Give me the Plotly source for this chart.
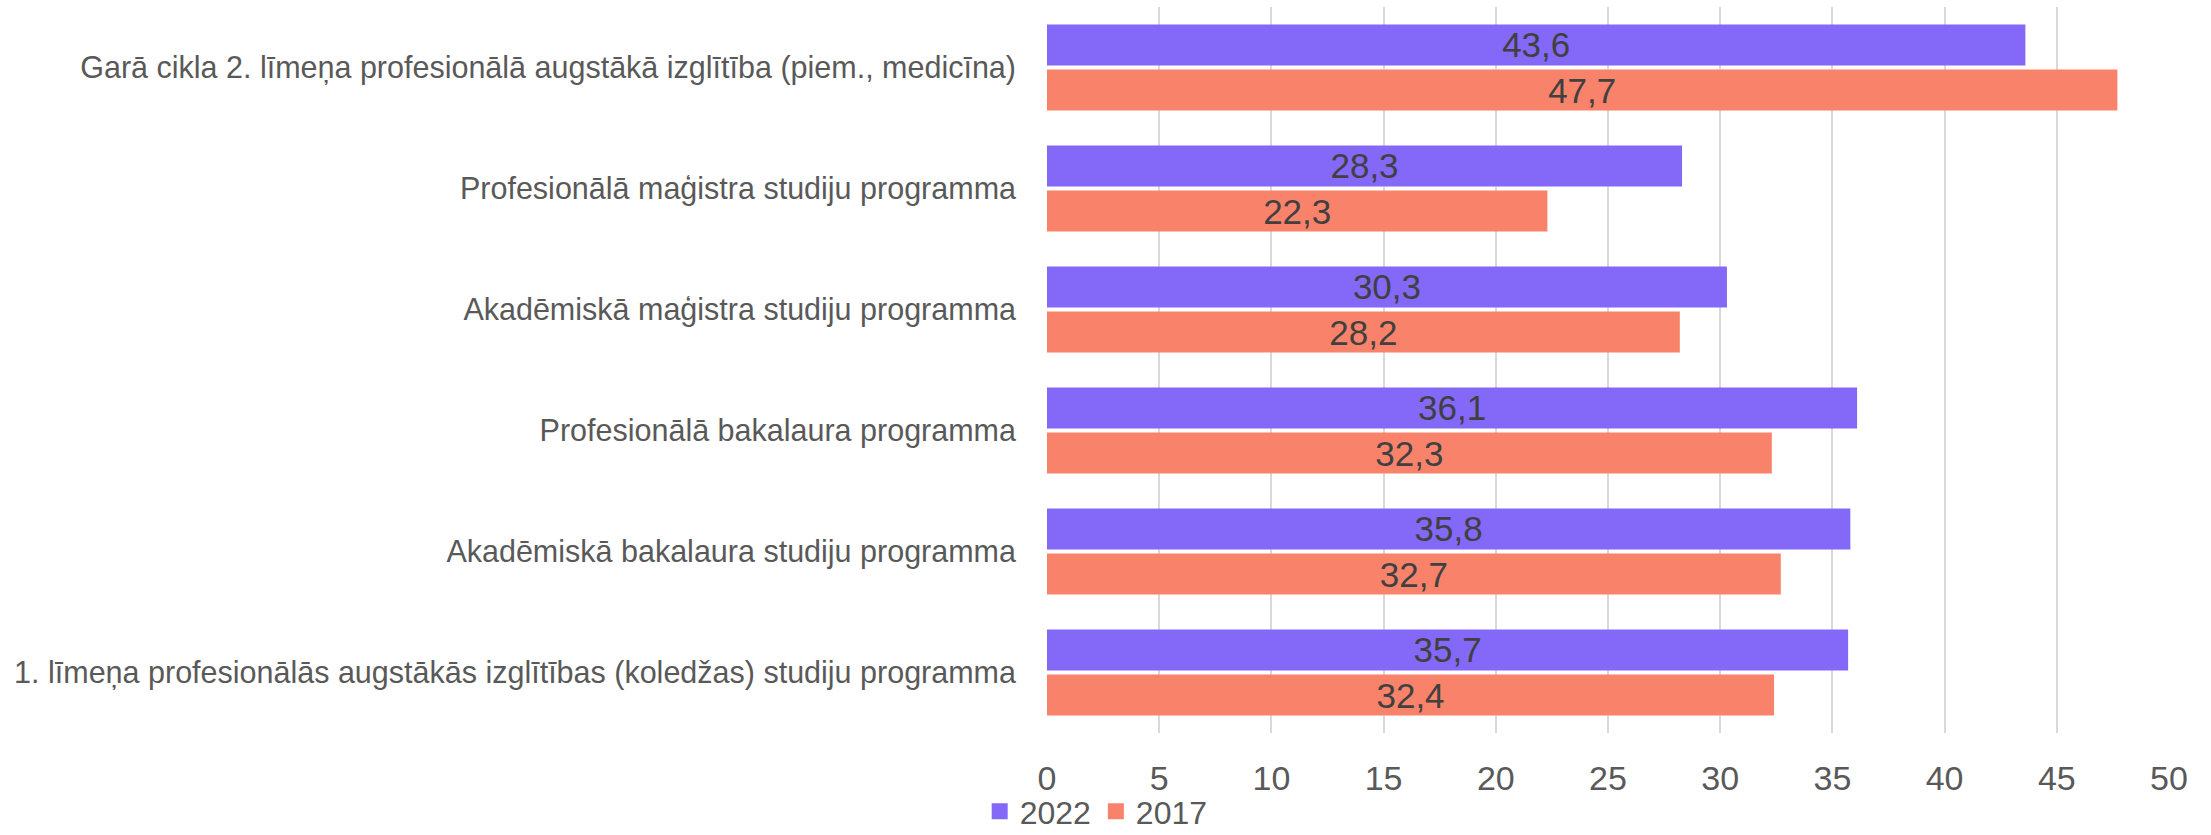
import plotly.graph_objects as go

categories = [
    "Garā cikla 2. līmeņa profesionālā augstākā izglītība (piem., medicīna)",
    "Profesionālā maģistra studiju programma",
    "Akadēmiskā maģistra studiju programma",
    "Profesionālā bakalaura programma",
    "Akadēmiskā bakalaura studiju programma",
    "1. līmeņa profesionālās augstākās izglītības (koledžas) studiju programma",
]
values_2022 = [43.6, 28.3, 30.3, 36.1, 35.8, 35.7]
values_2017 = [47.7, 22.3, 28.2, 32.3, 32.7, 32.4]
series_names = ["2022", "2017"]
series_colors = ["#8468F8", "#F9836A"]
x_ticks = [0, 5, 10, 15, 20, 25, 30, 35, 40, 45, 50]

FONT = "Liberation Sans"
TXT = "#595959"

fig = go.Figure()
for name, vals, col in zip(series_names, [values_2022, values_2017], series_colors):
    fig.add_trace(go.Bar(
        y=categories, x=vals, name=name, orientation="h", legendgroup=name,
        showlegend=False,
        marker=dict(color=col, line=dict(width=0)),
        texttemplate="%{x:.1f}", textposition="inside",
        insidetextanchor="middle", constraintext="none",
        textfont=dict(family=FONT, size=35, color="#404040"),
    ))
# legend entries (bigger square swatches like the original)
for name, col in zip(series_names, series_colors):
    fig.add_trace(go.Scatter(
        x=[None], y=[None], mode="markers", name=name, legendgroup=name,
        marker=dict(symbol="square", size=16, color=col, line=dict(width=0)),
        showlegend=True,
    ))

fig.update_layout(
    width=2211, height=835,
    margin=dict(l=1047, r=42, t=7, b=102, autoexpand=False),
    paper_bgcolor="white", plot_bgcolor="white",
    barmode="group", bargap=0.256, bargroupgap=0.089,
    separators=", ",
    font=dict(family=FONT, size=30, color=TXT),
    showlegend=True,
    legend=dict(orientation="h", x=-0.060, xanchor="left", y=-0.108, yanchor="middle",
                font=dict(family=FONT, size=32, color=TXT), traceorder="normal",
                itemwidth=30, tracegroupgap=0, bgcolor="rgba(0,0,0,0)"),
    xaxis=dict(range=[0, 50], tickvals=x_ticks, showgrid=True, gridcolor="#D9D9D9",
               gridwidth=2, zeroline=False, showline=False, ticks="",
               ticklabelstandoff=22, tickfont=dict(family=FONT, size=34, color=TXT),
               automargin=False),
    yaxis=dict(autorange="reversed", showgrid=False, zeroline=False, showline=False,
               ticks="", ticklabelstandoff=30,
               tickfont=dict(family=FONT, size=30.5, color=TXT), automargin=False),
)

fig.write_html("out.html", config={"displayModeBar": False},
               post_script="document.body.style.margin='0';document.body.style.overflow='hidden';")
